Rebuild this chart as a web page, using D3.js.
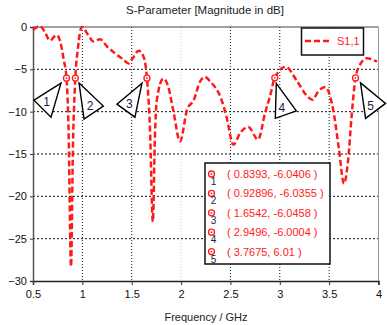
<!DOCTYPE html>
<html>
<head>
<meta charset="utf-8">
<script src="https://cdn.jsdelivr.net/npm/d3@7"></script>
<style>
  body { margin: 0; background: #fff; }
  svg { display: block; font-family: "Liberation Sans", Arial, sans-serif; }
</style>
</head>
<body>
<svg id="chart" width="387" height="325"></svg>
<script>
// S11 curve (GHz, dB)
const freq = [0.50, 0.57, 0.62, 0.67, 0.74, 0.78, 0.81, 0.8393, 0.86, 0.885, 0.905, 0.92896, 0.955, 0.995,
  1.06, 1.11, 1.18, 1.25, 1.33, 1.40, 1.47, 1.51, 1.57, 1.62, 1.6542, 1.685, 1.714, 1.735, 1.755,
  1.82, 1.87, 1.92, 1.99, 2.06, 2.13, 2.19, 2.24, 2.30, 2.41, 2.46, 2.53, 2.60, 2.68, 2.78, 2.85,
  2.90, 2.9496, 3.06, 3.17, 3.28, 3.33, 3.39, 3.46, 3.51, 3.55, 3.60, 3.65, 3.69, 3.73, 3.7675,
  3.82, 3.88, 3.985]
const s11 = [-0.35, 0.1, -0.6, -1.6, -0.95, -1.9, -3.8, -6.04, -12, -28.3, -14, -6.04, -2.5, 0.0,
  -0.95, -1.7, -1.45, -2.3, -3.1, -3.7, -4.3, -3.7, -2.8, -3.5, -6.05, -12, -23, -13, -8.6,
  -6.1, -7.05, -9.8, -13.5, -9.8, -8.6, -6.5, -5.9, -6.5, -8.6, -10.6, -13.9, -12.5, -11.8, -13.3, -10.2,
  -8.2, -6.0, -4.7, -6.3, -8.2, -8.6, -7.6, -7.1, -8.2, -10.4, -14.5, -18.5, -16, -10.2, -6.01,
  -4.3, -3.7, -4.1]

// markers
const markerFreq = [0.8393, 0.92896, 1.6542, 2.9496, 3.7675]
const markerDb = [-6.0406, -6.0355, -6.0458, -6.0004, -6.0100]
const markerLabels = ['( 0.8393, -6.0406 )', '( 0.92896, -6.0355 )', '( 1.6542, -6.0458 )',
  '( 2.9496, -6.0004 )', '( 3.7675, 6.01 )']

const xTicks = [0.5, 1, 1.5, 2, 2.5, 3, 3.5, 4]
const yTicks = [0, -5, -10, -15, -20, -25, -30]

// callout triangles, offsets from each marker: tip, corner, corner, number position
const callouts = [
  {pts: [[-5.5, 5], [-32.5, 22], [-15.5, 39]], num: [-20, 28]},
  {pts: [[3.7, 5], [28, 28], [8.7, 41]], num: [14.7, 32]},
  {pts: [[-5, 5], [-30, 26], [-12, 39]], num: [-17.5, 30]},
  {pts: [[1.5, 5.5], [21.5, 33], [0.5, 40.5]], num: [7, 34]},
  {pts: [[5, 5], [30, 25.5], [10, 40.5]], num: [15, 32]}
]

const margin = {top: 27, right: 8.5, bottom: 44, left: 33}
const svg = d3.select('#chart')
const width = 387, height = 325
const innerW = width - margin.left - margin.right
const innerH = height - margin.top - margin.bottom
const red = '#ff1a1a'

const x = d3.scaleLinear().domain([0.5, 4]).range([margin.left, margin.left + innerW])
const y = d3.scaleLinear().domain([-30, 0]).range([margin.top + innerH, margin.top])

// title
svg.append('text')
  .attr('x', 205).attr('y', 14)
  .attr('text-anchor', 'middle')
  .attr('font-size', 11.5)
  .attr('fill', '#222')
  .text('S-Parameter [Magnitude in dB]')

// grid
svg.append('g')
  .selectAll('line')
  .data(xTicks.slice(1, -1))
  .join('line')
  .attr('x1', d => x(d)).attr('x2', d => x(d))
  .attr('y1', margin.top).attr('y2', margin.top + innerH)
  .attr('stroke', d => d == 2 ? '#c8c8c8' : '#111')
  .attr('stroke-dasharray', '1,2')
svg.append('g')
  .selectAll('line')
  .data(yTicks.slice(1, -1))
  .join('line')
  .attr('x1', margin.left).attr('x2', margin.left + innerW)
  .attr('y1', d => y(d)).attr('y2', d => y(d))
  .attr('stroke', '#111')
  .attr('stroke-dasharray', '2,2')

// frame
svg.append('line').attr('x1', margin.left).attr('x2', margin.left + innerW)
  .attr('y1', margin.top).attr('y2', margin.top).attr('stroke', '#444')
svg.append('line').attr('x1', margin.left + innerW).attr('x2', margin.left + innerW)
  .attr('y1', margin.top).attr('y2', margin.top + innerH).attr('stroke', '#999')

// axes
const xAxis = svg.append('g')
  .attr('transform', `translate(0,${margin.top + innerH})`)
  .call(d3.axisBottom(x).tickValues(xTicks).tickFormat(d3.format('')).tickSize(4).tickPadding(5))
const yAxis = svg.append('g')
  .attr('transform', `translate(${margin.left},0)`)
  .call(d3.axisLeft(y).tickValues(yTicks).tickSize(3).tickPadding(3))
xAxis.select('.domain').attr('stroke', '#222').attr('stroke-width', 1.5)
yAxis.select('.domain').attr('stroke', '#555').attr('stroke-width', 1.5)
svg.selectAll('.tick text').attr('font-size', 11).attr('fill', '#111')
  .attr('font-family', '"Liberation Sans", Arial, sans-serif')
svg.selectAll('.tick line').attr('stroke', '#333')

svg.append('text')
  .attr('x', 206).attr('y', 321)
  .attr('text-anchor', 'middle')
  .attr('font-size', 11)
  .attr('fill', '#222')
  .text('Frequency / GHz')

// curve
const data = freq.map((f, i) => ({f: f, db: s11[i]}))
const line = d3.line()
  .curve(d3.curveMonotoneX)
  .x(d => x(d.f))
  .y(d => y(d.db))
svg.append('path')
  .datum(data)
  .attr('d', line)
  .attr('fill', 'none')
  .attr('stroke', red)
  .attr('stroke-width', 2.5)
  .attr('stroke-dasharray', '6,3')

// callout triangles
const markers = markerFreq.map((f, i) => ({f: f, db: markerDb[i], c: callouts[i], n: i + 1}))
const callG = svg.append('g')
callG.selectAll('path')
  .data(markers)
  .join('path')
  .attr('d', d => {
    const mx = x(d.f), my = y(d.db)
    return 'M' + d.c.pts.map(p => [mx + p[0], my + p[1]].join(',')).join('L') + 'Z'
  })
  .attr('fill', '#fff')
  .attr('stroke', '#000')
  .attr('stroke-width', 1.4)
  .attr('stroke-linejoin', 'miter')
callG.selectAll('text')
  .data(markers)
  .join('text')
  .attr('x', d => x(d.f) + d.c.num[0])
  .attr('y', d => y(d.db) + d.c.num[1])
  .attr('text-anchor', 'middle')
  .attr('font-size', 12)
  .attr('fill', '#14204a')
  .text(d => d.n)

function markerSymbol(g, cx, cy) {
  g.append('circle').attr('cx', cx).attr('cy', cy).attr('r', 3)
    .attr('fill', '#fff').attr('stroke', red).attr('stroke-width', 1.3)
  g.append('circle').attr('cx', cx).attr('cy', cy).attr('r', 0.9).attr('fill', red)
}
markers.forEach(d => markerSymbol(svg, x(d.f), y(d.db)))

// legend
const leg = svg.append('g')
leg.append('rect').attr('x', 301.5).attr('y', 28).attr('width', 62).attr('height', 27)
  .attr('fill', '#fff').attr('stroke', '#111').attr('stroke-width', 1.5)
leg.append('line').attr('x1', 305).attr('x2', 329).attr('y1', 41).attr('y2', 41)
  .attr('stroke', red).attr('stroke-width', 2.5).attr('stroke-dasharray', '6,3')
leg.append('text').attr('x', 337).attr('y', 45).attr('font-size', 11).attr('fill', red).text('S1,1')

// marker table
const tab = svg.append('g')
tab.append('rect').attr('x', 205).attr('y', 163).attr('width', 125).attr('height', 101)
  .attr('fill', '#fff').attr('stroke', '#111').attr('stroke-width', 1.5)
markerLabels.forEach((t, i) => {
  const ry = 174 + i * 19.4
  markerSymbol(tab, 211.5, ry)
  tab.append('text').attr('x', 213.5).attr('y', ry + 11).attr('text-anchor', 'middle')
    .attr('font-size', 10).attr('fill', '#14204a').text(i + 1)
  tab.append('text').attr('x', 227).attr('y', ry + 4).attr('font-size', 11)
    .attr('fill', red).text(t)
})
</script>
</body>
</html>
